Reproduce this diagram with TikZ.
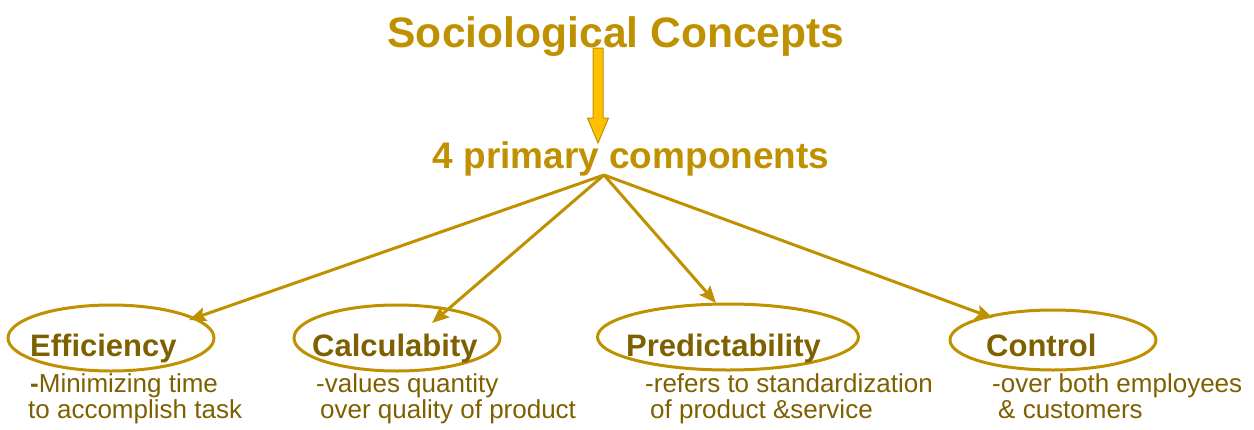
\documentclass[tikz,border=0pt]{standalone}
\usepackage{fontspec}
\setmainfont{Liberation Sans}
\usetikzlibrary{shapes.geometric,arrows.meta,calc}
\definecolor{gold}{RGB}{191,144,0}
\definecolor{darkgold}{RGB}{127,96,0}
\definecolor{amber}{RGB}{255,192,0}
\begin{document}
\begin{tikzpicture}[x=1pt,y=-1pt,
  oval/.style={ellipse,draw=gold,line width=3pt,inner sep=0pt,minimum height=66pt},
  heading/.style={text=gold,inner sep=0pt,anchor=base,font=\bfseries},
  term/.style={text=darkgold,inner sep=0pt,anchor=base west,
    font=\fontsize{31}{36}\selectfont\bfseries},
  note/.style={text=darkgold,inner sep=0pt,anchor=base west,align=left,
    font=\fontsize{26}{26.5}\selectfont},
  link/.style={draw=gold,line width=3pt,
    -{Stealth[length=17pt,width=14pt,inset=3pt]}}
]
\useasboundingbox (0,0) rectangle (1254,429);

% headings
\node[heading,font=\fontsize{42.6}{50}\selectfont\bfseries] (title) at (616,47) {Sociological Concepts};
\node[heading,font=\fontsize{37}{44}\selectfont\bfseries] (comp) at (631,168) {4 primary components};

% block arrow between the headings
\coordinate (arrTop) at (598,48);
\coordinate (arrTip) at (598,143);
\filldraw[fill=amber,draw=gold,line width=1pt,line join=miter]
  ($(arrTop)+(-5,0)$) -- ($(arrTop)+(5,0)$) -- ($(arrTip)+(5,-25)$) --
  ($(arrTip)+(10.5,-25)$) -- (arrTip) -- ($(arrTip)+(-10.5,-25)$) --
  ($(arrTip)+(-5,-25)$) -- cycle;

% the four component ovals
\node[oval,minimum width=206pt] (eff)  at (111,338) {};
\node[oval,minimum width=206pt] (calc) at (397,338) {};
\node[oval,minimum width=261pt] (pred) at (728,337) {};
\node[oval,minimum width=206pt,minimum height=60pt] (ctrl) at (1053,340) {};

% component names
\node[term] (effT)  at (30,356)  {Efficiency};
\node[term] (calcT) at (312,356) {Calculabity};
\node[term] (predT) at (626,356) {Predictability};
\node[term] (ctrlT) at (986,356) {Control};

% descriptions (anchored on the baseline of their second line)
\node[note] (effD)  at (28,418.5)  {\hspace{2pt}\textbf{-}Minimizing time\\to accomplish task};
\node[note] (calcD) at (316,418.5) {-values quantity\\\hspace{4pt}over quality of product};
\node[note] (predD) at (645,418.5) {-refers to standardization\\\hspace{5pt}of product \&service};
\node[note] (ctrlD) at (992,418.5) {-over both employees\\\hspace{6pt}\& customers};

% connectors from the hub under the second heading
\coordinate (hub) at (604,175);
\coordinate (effTip)  at ($(eff.center)+(78,-18)$);
\coordinate (calcTip) at ($(calc.center)+(35,-15)$);
\coordinate (predTip) at ($(pred.center)+(-12,-34)$);
\coordinate (ctrlTip) at ($(ctrl.center)+(-60,-22)$);
\draw[link] (hub) -- (effTip);
\draw[link] (hub) -- (calcTip);
\draw[link] (hub) -- (predTip);
\draw[link] (hub) -- (ctrlTip);
\end{tikzpicture}
\end{document}
